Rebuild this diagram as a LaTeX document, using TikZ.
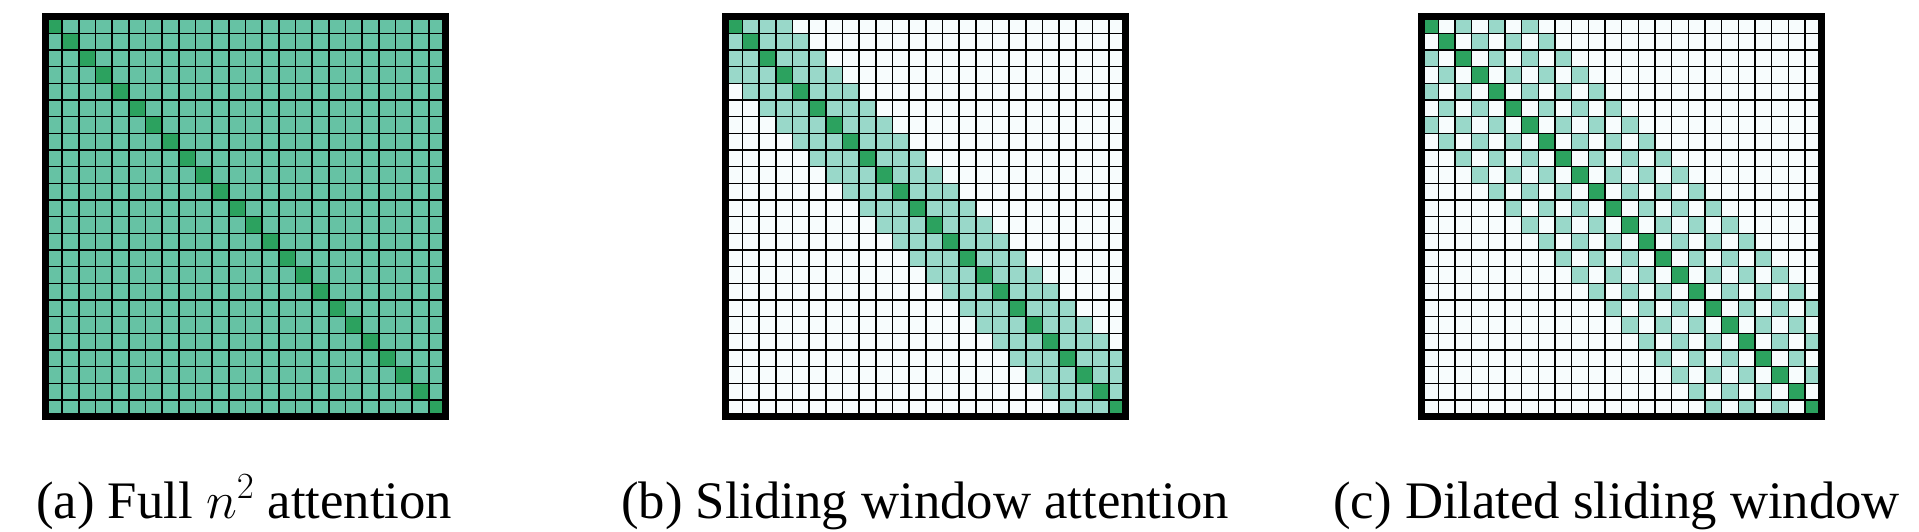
\RequirePackage{fix-cm}
\documentclass[tikz,border=0pt]{standalone}
\usepackage{fontspec}
\setmainfont{Liberation Serif}
\usetikzlibrary{positioning}
\definecolor{cellwhite}{HTML}{F7FCFD}
\definecolor{celllight}{HTML}{99D8C9}
\definecolor{cellfull}{HTML}{66C2A4}
\definecolor{celldark}{HTML}{2CA25F}
\tikzset{
  gridline/.style={line width=1pt, black},
  frameline/.style={line width=4.8pt, black},
  caption/.style={anchor=base, inner sep=0pt, font=\fontsize{36}{40}\selectfont}
}
\begin{document}
\begin{tikzpicture}[x=0.4cm, y=-0.4cm]
    \useasboundingbox (0,0) rectangle (115.14,31.92);

    % (a) full attention
    \begin{scope}[shift={(2.73,1)}]
      \fill[cellfull] (0,0) rectangle (24,24);
      \foreach \i in {0,...,23}
        \fill[celldark] (\i,\i) rectangle ++(1,1);
      \foreach \i in {1,...,23} {
        \draw[gridline] (\i,0) -- (\i,24);
        \draw[gridline] (0,\i) -- (24,\i);
      }
      \draw[frameline] (0,0) rectangle (24,24);
    \end{scope}

    % (b) sliding window
    \begin{scope}[shift={(43.55,1)}]
      \fill[cellwhite] (0,0) rectangle (24,24);
      \foreach \r in {0,...,23}
        \foreach \c in {0,...,23} {
          \pgfmathtruncatemacro\gap{abs(\r-\c)}
          \ifnum\gap<4 \fill[celllight] (\c,\r) rectangle ++(1,1); \fi
        }
      \foreach \i in {0,...,23}
        \fill[celldark] (\i,\i) rectangle ++(1,1);
      \foreach \i in {1,...,23} {
        \draw[gridline] (\i,0) -- (\i,24);
        \draw[gridline] (0,\i) -- (24,\i);
      }
      \draw[frameline] (0,0) rectangle (24,24);
    \end{scope}

    % (c) dilated sliding window
    \begin{scope}[shift={(85.3,1)}]
      \fill[cellwhite] (0,0) rectangle (24,24);
      \foreach \r in {0,...,23}
        \foreach \c in {0,...,23} {
          \pgfmathtruncatemacro\gap{abs(\r-\c)}
          \ifnum\gap<7 \ifodd\gap\else
            \fill[celllight] (\c,\r) rectangle ++(1,1);
          \fi\fi
        }
      \foreach \i in {0,...,23}
        \fill[celldark] (\i,\i) rectangle ++(1,1);
      \foreach \i in {1,...,23} {
        \draw[gridline] (\i,0) -- (\i,24);
        \draw[gridline] (0,\i) -- (24,\i);
      }
      \draw[frameline] (0,0) rectangle (24,24);
    \end{scope}

    \node[caption] (capfull) at (14.65,31.08) {(a) Full $n^2$ attention};
    \node[caption] (capslide) at (55.5,31.08) {(b) Sliding window attention};
    \node[caption] (capdilate) at (97.0,31.08) {(c) Dilated sliding window};
  \end{tikzpicture}
\end{document}
